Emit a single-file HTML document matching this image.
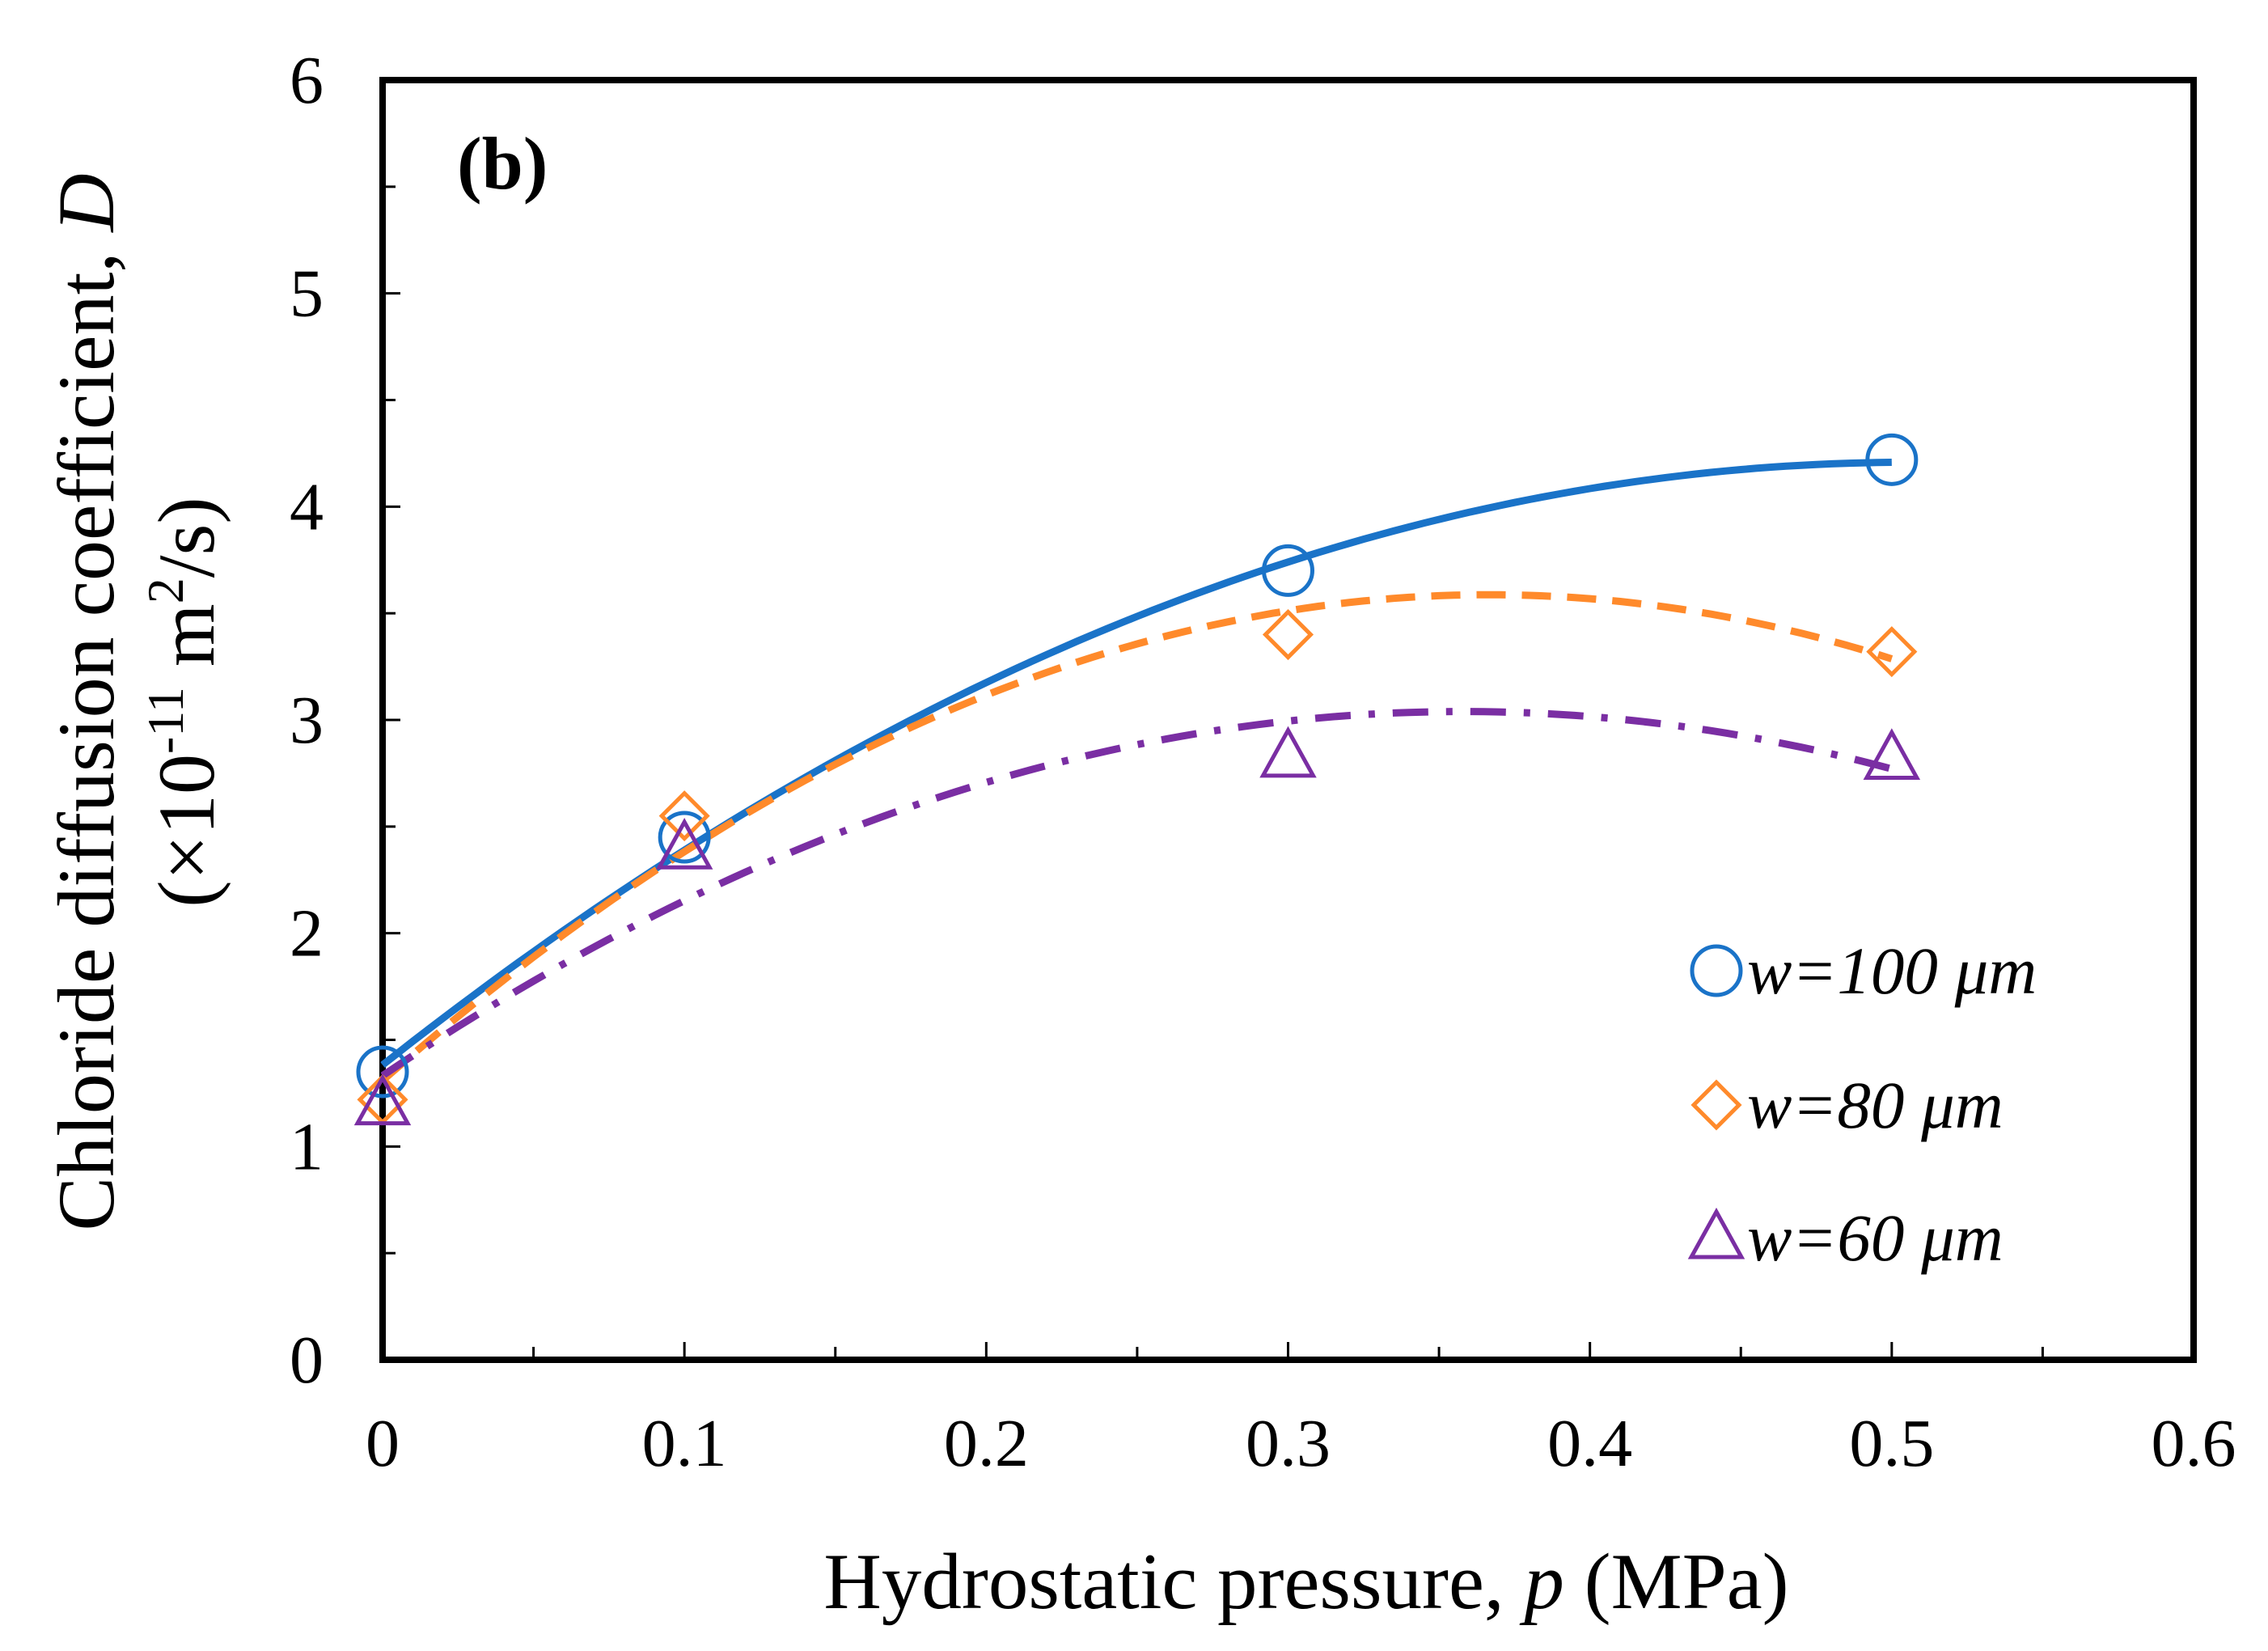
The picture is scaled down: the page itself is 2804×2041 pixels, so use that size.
<!DOCTYPE html>
<html><head><meta charset="utf-8"><style>
html,body{margin:0;padding:0;background:#fff;}
svg{display:block;font-family:"Liberation Serif",serif;}
</style></head><body>
<svg id="chart" width="2804" height="2041" viewBox="0 0 2804 2041">
<g id="plot"></g>
</svg>
<script>
const xTicks = [0, 0.1, 0.2, 0.3, 0.4, 0.5, 0.6];
const xTickLabels = ["0", "0.1", "0.2", "0.3", "0.4", "0.5", "0.6"];
const yTicks = [0, 1, 2, 3, 4, 5, 6];
const yTickLabels = ["0", "1", "2", "3", "4", "5", "6"];
const pressures = [0, 0.1, 0.3, 0.5];
const w100 = [1.35, 2.45, 3.70, 4.22];
const w80 = [1.22, 2.55, 3.40, 3.32];
const w60 = [1.20, 2.40, 2.83, 2.82];
const seriesNames = ["w=100 μm", "w=80 μm", "w=60 μm"];

const L = 473, R = 2712, T = 99, B = 1681;
const X = v => L + (v - 0) / 0.6 * (R - L);
const Y = v => B - v / 6 * (B - T);
const NS = "http://www.w3.org/2000/svg";
const g = document.getElementById('plot');
function mk(tag, attrs, parent) {
  const e = document.createElementNS(NS, tag);
  for (const k in attrs) e.setAttribute(k, attrs[k]);
  (parent || g).appendChild(e);
  return e;
}
function fit(xs, ys) {
  let S = [0,0,0,0,0], T2 = [0,0,0];
  for (let i = 0; i < xs.length; i++) {
    let p = 1;
    for (let k = 0; k < 5; k++) { S[k] += p; p *= xs[i]; }
    T2[0] += ys[i]; T2[1] += ys[i]*xs[i]; T2[2] += ys[i]*xs[i]*xs[i];
  }
  const M = [[S[0],S[1],S[2],T2[0]],[S[1],S[2],S[3],T2[1]],[S[2],S[3],S[4],T2[2]]];
  for (let i = 0; i < 3; i++) for (let j = i+1; j < 3; j++) {
    const f = M[j][i]/M[i][i];
    for (let k = i; k < 4; k++) M[j][k] -= f*M[i][k];
  }
  const c = [0,0,0];
  for (let i = 2; i >= 0; i--) {
    let s = M[i][3];
    for (let k = i+1; k < 3; k++) s -= M[i][k]*c[k];
    c[i] = s/M[i][i];
  }
  return c;
}
function curvePath(vals) {
  const c = fit(pressures, vals);
  let d = "";
  for (let i = 0; i <= 100; i++) {
    const x = 0.5 * i / 100;
    const y = c[0] + c[1]*x + c[2]*x*x;
    d += (i ? "L" : "M") + X(x).toFixed(1) + " " + Y(y).toFixed(1);
  }
  return d;
}
for (let i = 0; i < 12; i++) {
  const v = i * 0.05;
  const t = mk('line', {x1: X(v), x2: X(v), y1: B, y2: B - (i % 2 ? 16 : 22), stroke: '#000', 'stroke-width': 3});
  
  
}
for (let i = 0; i < 12; i++) {
  const v = i * 0.5;
  const t = mk('line', {x1: L, x2: L + (i % 2 ? 16 : 22), y1: Y(v), y2: Y(v), stroke: '#000', 'stroke-width': 3});
  
  
}
const frame = mk('rect', {x: L, y: T, width: R - L, height: B - T, fill: 'none', stroke: '#000', 'stroke-width': 8});


xTicks.forEach((v, i) => {
  const t = mk('text', {x: X(v), y: 1812, 'font-size': 84, 'text-anchor': 'middle'});
  t.textContent = xTickLabels[i];
  
  
});
yTicks.forEach((v, i) => {
  const t = mk('text', {x: 400, y: Y(v) + 28, 'font-size': 84, 'text-anchor': 'end'});
  t.textContent = yTickLabels[i];
  
  
});
const colors = ['#1a73c8', '#ff8a2b', '#7a2ea3'];
const dashes = ['none', '36 20', '44 22 8 22'];
const series = [w100, w80, w60];
series.forEach((vals, s) => {
  const p = mk('path', {d: curvePath(vals), fill: 'none', stroke: colors[s], 'stroke-width': 9, 'stroke-dasharray': dashes[s]});
  
  
});
function marker(s, cx, cy) {
  if (s === 0) return mk('circle', {cx, cy, r: 30, fill: 'none', stroke: colors[0], 'stroke-width': 5});
  if (s === 1) return mk('polygon', {points: `${cx},${cy-28} ${cx+28},${cy} ${cx},${cy+28} ${cx-28},${cy}`, fill: 'none', stroke: colors[1], 'stroke-width': 5});
  return mk('polygon', {points: `${cx},${cy-32} ${cx+31},${cy+24} ${cx-31},${cy+24}`, fill: 'none', stroke: colors[2], 'stroke-width': 5});
}
series.forEach((vals, s) => {
  vals.forEach((v, i) => {
    const m = marker(s, X(pressures[i]), Y(v));
    
    
  });
});
const legY = [1200, 1366, 1530];
seriesNames.forEach((n, s) => {
  const m = marker(s, 2122, legY[s]);
  
  
  const t = mk('text', {x: 2160, y: legY[s] + 28, 'font-size': 83, 'font-style': 'italic'});
  t.textContent = n;
  
  
});
</script>
<svg width="2804" height="2041" style="position:absolute;left:0;top:0;font-family:'Liberation Serif',serif">
<text x="565" y="233" font-size="92" font-weight="bold">(b)</text>
<text x="1615" y="1988" font-size="99" text-anchor="middle">Hydrostatic pressure, <tspan font-style="italic">p</tspan> (MPa)</text>
<g transform="translate(108,868) rotate(-90)">
<text x="0" y="32" font-size="100" text-anchor="middle">Chloride diffusion coefficient, <tspan font-style="italic">D</tspan></text>
<text x="0" y="156" font-size="100" text-anchor="middle">(×10<tspan font-size="64" dy="-38">-11</tspan><tspan dy="38"> m</tspan><tspan font-size="64" dy="-38">2</tspan><tspan dy="38">/s)</tspan></text>
</g>
</svg>
</body></html>
